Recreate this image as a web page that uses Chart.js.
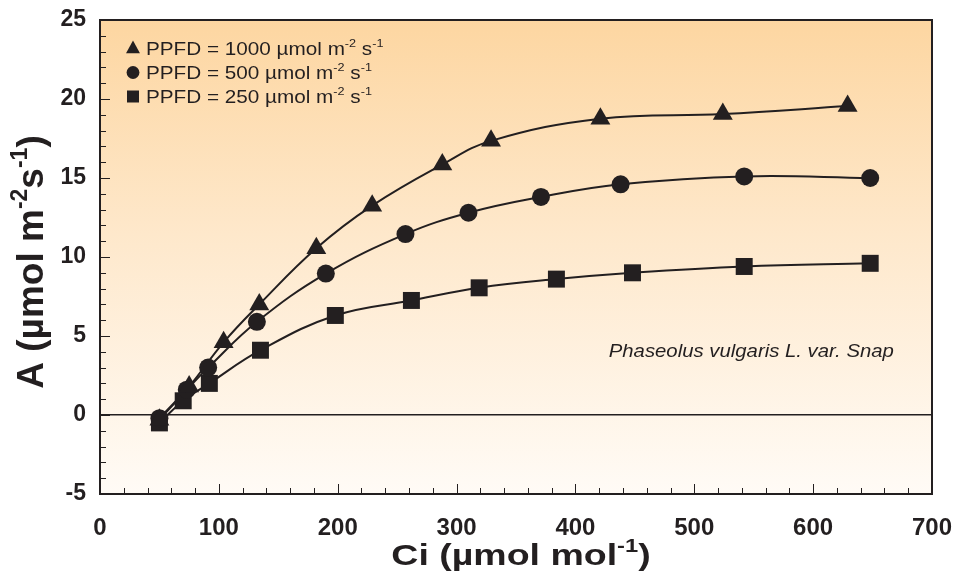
<!DOCTYPE html>
<html>
<head>
<meta charset="utf-8">
<script src="https://cdn.jsdelivr.net/npm/chart.js@4"></script>
<style>
  html, body { margin: 0; padding: 0; background: #fff; }
  #wrap { width: 956px; height: 577px; }
</style>
</head>
<body>
<div id="wrap"><canvas id="myChart" width="956" height="577"></canvas></div>
<script>
// PPFD = 1000
const ciHigh = [50, 75, 104, 134, 182, 229, 288, 329, 421, 524, 629];
const aHigh = [-0.3, 1.8, 4.6, 7.0, 10.55, 13.25, 15.85, 17.35, 18.75, 19.05, 19.55];
// PPFD = 500
const ciMid = [50, 73, 91, 132, 190, 257, 310, 371, 438, 542, 648];
const aMid = [-0.2, 1.6, 3.0, 5.9, 8.95, 11.45, 12.8, 13.8, 14.6, 15.1, 15.0];
// PPFD = 250
const ciLow = [50, 70, 92, 135, 198, 262, 319, 384, 448, 542, 648];
const aLow = [-0.5, 0.9, 2.0, 4.1, 6.3, 7.25, 8.05, 8.6, 9.0, 9.4, 9.6];

const xTicks = [0, 100, 200, 300, 400, 500, 600, 700];
const yTicks = [-5, 0, 5, 10, 15, 20, 25];

const ink = "#231f20";

function pts(xs, ys) {
  return xs.map(function(x, i) { return { x: x, y: ys[i] }; });
}

function series(label, parts, xs, ys, style, r) {
  return {
    label: label,
    legendParts: parts,
    data: pts(xs, ys),
    pointStyle: style,
    pointRadius: r,
    pointHoverRadius: r,
    showLine: true,
    tension: 0.4,
    borderColor: ink,
    borderWidth: 2,
    backgroundColor: ink,
    pointBackgroundColor: ink,
    pointBorderColor: ink,
    pointBorderWidth: 0
  };
}

// text with superscripts: parts starting with "^" are raised
function richText(ctx, parts, x, y, size, weight, style, sx, align) {
  var fam = "'Liberation Sans', Arial, Helvetica, sans-serif";
  var big = style + " " + weight + " " + size + "px " + fam;
  var small = style + " " + weight + " " + Math.round(size * 0.62) + "px " + fam;
  var w = 0;
  parts.forEach(function(p) {
    ctx.font = p[0] === "^" ? small : big;
    w += ctx.measureText(p[0] === "^" ? p.slice(1) : p).width;
  });
  ctx.save();
  ctx.translate(x, y);
  ctx.scale(sx, 1);
  var cx = align === "center" ? -w / 2 : 0;
  ctx.textAlign = "left";
  ctx.textBaseline = "alphabetic";
  ctx.fillStyle = ink;
  parts.forEach(function(p) {
    var sup = p[0] === "^";
    var t = sup ? p.slice(1) : p;
    ctx.font = sup ? small : big;
    ctx.fillText(t, cx, sup ? -size * 0.42 : 0);
    cx += ctx.measureText(t).width;
  });
  ctx.restore();
}

function marker(ctx, style, x, y, r) {
  ctx.beginPath();
  if (style === "triangle") {
    ctx.moveTo(x, y - r);
    ctx.lineTo(x + r * 0.87, y + r * 0.6);
    ctx.lineTo(x - r * 0.87, y + r * 0.6);
    ctx.closePath();
  } else if (style === "circle") {
    ctx.arc(x, y, r * 0.8, 0, Math.PI * 2);
  } else {
    ctx.rect(x - r * 0.75, y - r * 0.75, r * 1.5, r * 1.5);
  }
  ctx.fillStyle = ink;
  ctx.fill();
}

const bgPlugin = {
  id: "bg",
  beforeDraw: function(chart) {
    var a = chart.chartArea, ctx = chart.ctx;
    var g = ctx.createLinearGradient(0, a.top, 0, a.bottom);
    g.addColorStop(0, "#fdd6a1");
    g.addColorStop(0.45, "#fee8cb");
    g.addColorStop(1, "#fffbf6");
    ctx.save();
    ctx.fillStyle = g;
    ctx.fillRect(a.left, a.top, a.right - a.left, a.bottom - a.top);
    ctx.restore();
  }
};

const framePlugin = {
  id: "frame",
  afterDraw: function(chart) {
    var a = chart.chartArea, ctx = chart.ctx;
    var xs = chart.scales.x, ys = chart.scales.y;
    ctx.save();
    ctx.strokeStyle = ink;
    ctx.lineWidth = 1;
    ctx.beginPath();
    for (var v = ys.min + 1; v < ys.max; v++) {
      var py = Math.round(ys.getPixelForValue(v)) + 0.5;
      var len = v % 5 === 0 ? 10 : 6;
      ctx.moveTo(a.left, py);
      ctx.lineTo(a.left + len, py);
    }
    for (var u = xs.min + 20; u < xs.max; u += 20) {
      var px = Math.round(xs.getPixelForValue(u)) + 0.5;
      var l2 = u % 100 === 0 ? 10 : 6;
      ctx.moveTo(px, a.bottom);
      ctx.lineTo(px, a.bottom - l2);
    }
    ctx.stroke();
    ctx.lineWidth = 2;
    ctx.strokeRect(a.left, a.top, a.right - a.left, a.bottom - a.top);
    ctx.restore();
  }
};

const textPlugin = {
  id: "texts",
  afterDraw: function(chart) {
    var a = chart.chartArea, ctx = chart.ctx;
    var xs = chart.scales.x, ys = chart.scales.y;

    // legend
    chart.data.datasets.forEach(function(ds, i) {
      var base = a.top + 35 + i * 24;
      marker(ctx, ds.pointStyle, a.left + 33, base - 6.5, 8);
      richText(ctx, ds.legendParts, a.left + 46, base, 18, "normal", "normal", 1.15, "left");
    });

    // species note
    richText(ctx, ["Phaseolus vulgaris L. var. Snap"], xs.getPixelForValue(428), ys.getPixelForValue(3.7),
      19, "normal", "italic", 1.07, "left");

    // x title
    richText(ctx, ["Ci (\u00b5mol mol", "^-1", ")"], (a.left + a.right) / 2 + 5, 565, 30, "bold", "normal", 1.25, "center");

    // y title
    ctx.save();
    ctx.translate(43, 262);
    ctx.rotate(-Math.PI / 2);
    richText(ctx, ["A (\u00b5mol m", "^-2", "s", "^-1", ")"], 0, 0, 37, "bold", "normal", 1, "center");
    ctx.restore();
  }
};

new Chart("myChart", {
  type: "scatter",
  data: {
    datasets: [
      series("PPFD = 1000 \u00b5mol m-2 s-1", ["PPFD = 1000 \u00b5mol m", "^-2", " s", "^-1"], ciHigh, aHigh, "triangle", 11.5),
      series("PPFD = 500 \u00b5mol m-2 s-1", ["PPFD = 500 \u00b5mol m", "^-2", " s", "^-1"], ciMid, aMid, "circle", 9),
      series("PPFD = 250 \u00b5mol m-2 s-1", ["PPFD = 250 \u00b5mol m", "^-2", " s", "^-1"], ciLow, aLow, "rect", 12)
    ]
  },
  options: {
    responsive: false,
    animation: false,
    layout: { padding: { top: 20, right: 24, bottom: 0, left: 0 } },
    scales: {
      x: {
        type: "linear",
        min: 0,
        max: 700,
        afterFit: function(s) { s.height = 83; s.paddingLeft = 0; s.paddingRight = 0; },
        afterBuildTicks: function(s) { s.ticks = xTicks.map(function(v) { return { value: v }; }); },
        grid: { display: false },
        border: { display: false },
        ticks: {
          padding: 12,
          color: ink,
          font: { family: "'Liberation Sans', Arial, sans-serif", weight: "bold", size: 24 }
        }
      },
      y: {
        type: "linear",
        min: -5,
        max: 25,
        afterFit: function(s) { s.width = 100; s.paddingTop = 0; s.paddingBottom = 0; },
        afterBuildTicks: function(s) { s.ticks = yTicks.map(function(v) { return { value: v }; }); },
        grid: {
          drawTicks: false,
          lineWidth: 1.5,
          color: function(c) { return c.tick && c.tick.value === 0 ? ink : "rgba(0,0,0,0)"; }
        },
        border: { display: false },
        ticks: {
          padding: 14,
          color: ink,
          font: { family: "'Liberation Sans', Arial, sans-serif", weight: "bold", size: 23 }
        }
      }
    },
    plugins: {
      legend: { display: false },
      tooltip: { enabled: false },
      colors: { enabled: false }
    }
  },
  plugins: [bgPlugin, framePlugin, textPlugin]
});
</script>
</body>
</html>
